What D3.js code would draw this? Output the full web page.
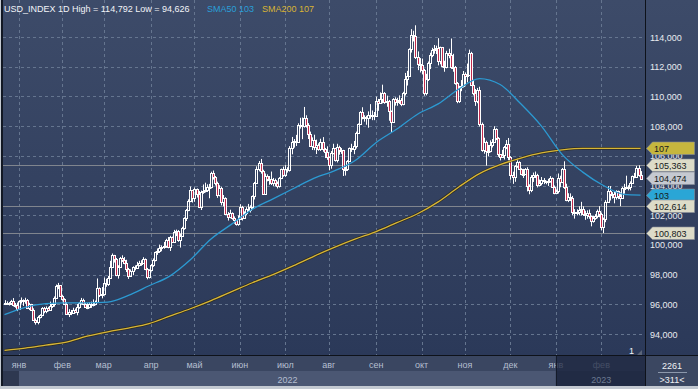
<!DOCTYPE html>
<html>
<head>
<meta charset="utf-8">
<script src="https://cdn.jsdelivr.net/npm/d3@7"></script>
<style>
  body { margin: 0; background: #fff; }
  svg { display: block; font-family: "Liberation Sans", Arial, sans-serif; }
</style>
</head>
<body>
<div id="chart"></div>
<script>
var width = 698, height = 389;
var plotLeft = 3, plotRight = 645, plotBottom = 355;

// trading days shown (weekdays), first and last bar
var firstDay = new Date(2021, 11, 23), afterLastDay = new Date(2023, 2, 1);
var firstOpen = 96.07;

// daily closes, one line per month (Dec 2021 .. Feb 2023)
var closes = [
  96.09, 96.05, 96.06, 96.19, 95.97, 95.96, 95.67,
  96.22, 96.26, 96.19, 96.32, 95.75, 95.99, 95.64, 94.95, 94.79, 95.17, 95.26, 95.74, 95.54, 95.78, 95.64, 95.91, 96.00, 96.45, 97.25, 97.27, 96.54,
  96.35, 96.03, 95.38, 95.48, 95.43, 95.63, 95.50, 95.82, 96.07, 96.32, 96.02, 95.84, 95.84, 96.04, 96.05, 96.03, 96.18, 97.08, 96.62, 96.71,
  97.41, 97.39, 97.77, 98.51, 99.29, 99.06, 97.99, 98.52, 99.12, 99.00, 98.77, 98.35, 97.93, 98.23, 98.48, 98.47, 98.64, 98.79, 98.81, 99.06, 98.41, 97.81, 98.31,
  98.62, 99.01, 99.49, 99.61, 99.81, 99.86, 99.91, 100.30, 99.88, 100.50, 100.20, 100.90, 100.96, 100.35, 100.57, 101.13, 101.79, 102.33, 102.98, 103.68, 103.19,
  103.75, 103.45, 102.56, 103.55, 103.66, 103.67, 103.92, 103.91, 104.85, 104.56, 104.19, 103.35, 103.83, 102.86, 103.14, 102.11, 101.86, 102.12, 101.81, 101.67, 101.42, 101.75,
  102.56, 101.81, 102.14, 102.44, 102.33, 102.54, 103.29, 104.15, 105.13, 105.52, 104.98, 103.41, 104.67, 104.44, 104.44, 104.17, 104.39, 104.19, 103.94, 104.51, 105.10, 104.69,
  105.14, 105.07, 106.51, 106.94, 107.03, 106.90, 108.07, 108.07, 108.00, 108.57, 108.05, 107.45, 106.69, 107.07, 106.60, 106.72, 106.46, 106.90, 106.45, 106.27, 105.90,
  105.35, 106.22, 106.50, 105.70, 106.60, 106.36, 106.36, 105.14, 105.08, 105.65, 106.51, 106.45, 106.68, 107.53, 108.16, 108.95, 108.59, 108.60, 108.53, 108.78, 108.78, 108.78, 108.70,
  109.67, 109.54, 109.85, 110.21, 109.60, 109.72, 108.99, 108.30, 109.80, 109.60, 109.70, 109.76, 109.50, 110.21, 111.19, 111.35, 113.19, 114.11, 114.10, 112.63, 112.19, 112.12,
  111.80, 110.20, 111.20, 112.24, 112.80, 113.15, 113.20, 113.25, 112.40, 113.30, 112.03, 112.00, 112.90, 112.80, 111.95, 111.98, 110.90, 109.70, 110.60, 110.70, 111.50,
  111.40, 111.45, 112.90, 110.80, 110.20, 109.68, 110.43, 108.11, 106.40, 106.90, 106.30, 106.30, 106.70, 106.95, 107.80, 107.20, 106.10, 105.90, 106.08, 106.60, 106.80, 105.90,
  104.70, 104.54, 105.31, 105.58, 105.10, 104.78, 104.80, 105.13, 103.99, 103.67, 104.56, 104.70, 104.68, 104.02, 104.16, 104.40, 104.28, 104.21, 104.33, 104.49, 103.92, 103.52,
  103.60, 104.52, 104.25, 105.12, 103.89, 103.00, 103.24, 103.17, 102.23, 102.20, 102.20, 102.38, 102.40, 102.06, 101.99, 102.15, 101.92, 101.63, 101.79, 101.92, 102.26, 102.10,
  101.21, 101.75, 102.92, 103.62, 103.42, 103.40, 103.22, 103.63, 103.28, 103.19, 103.81, 103.84, 103.87, 103.88, 104.18, 104.62, 104.60, 105.21, 104.68, 104.47
];

var highs = [
  96.28, 96.20, 96.15, 96.30, 96.42, 96.09, 96.12,
  96.26, 96.46, 96.33, 96.44, 96.35, 96.10, 96.03, 95.73, 95.05, 95.23, 95.33, 95.81, 95.82, 95.86, 95.83, 96.18, 96.09, 96.53, 97.33, 97.44, 97.30,
  96.62, 96.41, 96.15, 95.67, 95.62, 95.77, 95.72, 96.02, 96.16, 96.43, 96.38, 96.08, 96.09, 96.14, 96.18, 96.33, 96.25, 97.74, 97.14, 97.16,
  97.80, 97.72, 97.91, 98.93, 99.42, 99.33, 99.12, 98.63, 99.19, 99.30, 99.18, 99.00, 98.45, 98.35, 98.56, 98.62, 98.86, 98.93, 98.97, 99.17, 99.09, 98.45, 98.36,
  98.72, 99.09, 99.55, 99.76, 100.02, 99.96, 100.20, 100.41, 100.53, 100.61, 100.56, 101.01, 101.03, 101.00, 100.77, 101.22, 101.86, 102.42, 103.07, 103.93, 103.70,
  103.86, 103.80, 103.63, 103.66, 104.07, 104.19, 104.08, 104.11, 104.93, 105.01, 104.64, 104.26, 104.02, 103.91, 103.36, 103.21, 102.21, 102.37, 102.19, 101.92, 101.68, 101.99,
  102.74, 102.63, 102.26, 102.54, 102.76, 102.67, 103.33, 104.24, 105.29, 105.65, 105.79, 105.06, 104.81, 104.75, 104.64, 104.94, 104.51, 104.46, 104.27, 104.57, 105.14, 105.27,
  105.37, 105.23, 106.65, 107.27, 107.13, 107.41, 108.19, 108.56, 108.58, 109.29, 108.73, 108.20, 107.63, 107.24, 107.42, 107.09, 106.84, 107.15, 107.26, 106.53, 106.64,
  105.95, 106.32, 106.81, 106.53, 106.81, 106.68, 106.52, 106.40, 105.26, 105.71, 106.56, 106.81, 107.00, 107.63, 108.18, 109.01, 109.27, 108.73, 108.70, 108.99, 109.48, 109.05, 108.95,
  109.99, 109.83, 110.27, 110.79, 110.29, 110.05, 109.76, 109.05, 109.88, 109.94, 109.91, 110.07, 109.89, 110.31, 111.58, 111.72, 113.24, 114.53, 114.42, 114.79, 113.03, 112.58,
  112.55, 111.86, 111.52, 112.35, 112.94, 113.27, 113.46, 113.42, 113.92, 113.35, 113.33, 112.40, 113.07, 113.21, 113.90, 112.87, 112.05, 110.97, 110.71, 111.10, 111.71,
  111.61, 112.21, 113.15, 113.00, 111.11, 110.50, 110.57, 110.65, 108.24, 107.22, 107.02, 106.73, 107.04, 107.13, 107.99, 107.85, 107.26, 106.12, 106.40, 106.66, 107.06, 107.20,
  105.98, 104.93, 105.37, 105.84, 105.63, 105.16, 105.12, 105.17, 105.23, 104.08, 104.70, 104.87, 104.94, 104.79, 104.40, 104.57, 104.50, 104.32, 104.45, 104.63, 104.54, 104.00,
  103.74, 104.81, 104.66, 105.18, 105.63, 104.12, 103.48, 103.47, 103.30, 102.41, 102.40, 102.60, 102.90, 102.60, 102.30, 102.33, 102.38, 101.97, 101.95, 102.07, 102.38, 102.61,
  102.17, 101.84, 103.01, 103.96, 103.96, 103.55, 103.62, 103.68, 103.66, 103.54, 103.91, 104.11, 104.66, 104.02, 104.28, 104.67, 104.85, 105.32, 105.36, 104.97
];

var lows = [
  95.95, 95.97, 95.92, 95.95, 95.86, 95.77, 95.54,
  95.64, 96.05, 95.89, 96.04, 95.68, 95.61, 95.56, 94.93, 94.63, 94.65, 95.05, 95.20, 95.40, 95.40, 95.52, 95.55, 95.76, 95.84, 96.40, 97.02, 96.49,
  96.25, 95.95, 95.33, 95.14, 95.27, 95.41, 95.40, 95.26, 95.70, 95.98, 95.94, 95.77, 95.67, 95.73, 95.76, 95.86, 95.93, 96.14, 96.49, 96.40,
  96.59, 97.18, 97.24, 97.74, 98.50, 98.81, 97.89, 97.73, 98.45, 98.85, 98.70, 98.17, 97.71, 97.92, 97.96, 98.29, 98.44, 98.55, 98.59, 98.77, 98.30, 97.68, 97.74,
  98.21, 98.52, 98.89, 99.33, 99.46, 99.57, 99.74, 99.80, 99.77, 99.59, 100.15, 100.13, 100.59, 100.21, 99.82, 100.54, 101.02, 101.61, 102.27, 102.88, 102.85,
  102.90, 103.19, 102.48, 102.35, 103.44, 103.53, 103.56, 103.14, 103.80, 104.40, 104.00, 103.17, 103.27, 102.66, 102.59, 102.07, 101.64, 101.79, 101.70, 101.43, 101.30, 101.29,
  101.71, 101.64, 101.82, 101.99, 102.24, 102.18, 102.39, 103.06, 104.12, 104.95, 104.80, 103.36, 103.37, 104.28, 104.05, 104.03, 103.97, 103.95, 103.80, 103.86, 104.43, 104.59,
  104.58, 104.87, 104.94, 106.10, 106.55, 106.66, 106.89, 107.83, 107.12, 107.90, 107.90, 107.13, 106.59, 106.39, 106.38, 106.12, 106.34, 106.33, 106.27, 105.85, 105.73,
  105.04, 105.13, 106.10, 105.61, 105.55, 106.07, 106.13, 104.64, 104.67, 104.98, 105.58, 106.26, 106.11, 106.49, 107.49, 108.07, 108.46, 108.30, 108.09, 107.89, 108.49, 108.40, 108.40,
  108.63, 109.03, 109.51, 109.53, 109.50, 109.30, 108.36, 107.59, 108.27, 109.38, 109.37, 109.49, 109.34, 109.40, 110.06, 110.73, 111.34, 112.95, 113.70, 112.52, 111.77, 111.61,
  111.49, 110.05, 110.07, 111.04, 111.84, 112.64, 112.87, 112.85, 112.09, 112.16, 111.95, 111.66, 111.89, 112.57, 111.85, 111.66, 110.79, 109.54, 109.56, 110.35, 110.60,
  110.74, 110.94, 111.43, 110.72, 110.07, 109.36, 109.54, 107.97, 106.27, 106.14, 105.34, 105.96, 106.23, 106.56, 106.89, 107.06, 105.93, 105.69, 105.87, 105.75, 106.45, 105.68,
  104.39, 104.11, 104.25, 105.19, 105.04, 104.69, 104.51, 104.71, 103.60, 103.41, 103.55, 104.24, 104.50, 103.87, 103.95, 104.01, 104.09, 104.08, 103.97, 104.19, 103.86, 103.41,
  103.45, 103.46, 103.88, 104.16, 103.77, 102.94, 102.88, 102.95, 101.99, 101.77, 101.99, 102.01, 101.98, 101.95, 101.69, 101.76, 101.76, 101.25, 101.50, 101.69, 101.79, 101.86,
  100.99, 100.80, 101.53, 102.90, 102.99, 103.12, 102.80, 103.05, 103.08, 102.61, 103.13, 103.45, 103.76, 103.67, 103.67, 104.14, 104.49, 104.55, 104.59, 104.40
];

// moving averages, one value every 10 bars
var smaBars = [0, 10, 20, 30, 40, 50, 60, 70, 80, 90, 100, 110, 120, 130, 140, 150, 160, 170, 180, 190, 200, 210, 220, 230, 240, 250, 260, 270, 280, 290, 300, 308];
var sma50 = [95.3, 95.8, 96.05, 96.1, 96.1, 96.15, 96.6, 97.25, 97.9, 99.0, 100.4, 101.4, 102.4, 103.1, 103.8, 104.5,
  105.0, 105.7, 106.9, 107.8, 108.8, 109.5, 110.5, 111.2, 110.8, 109.5, 108.0, 106.1, 104.9, 104.0, 103.4, 103.35];
var sma200 = [92.9, 93.05, 93.25, 93.45, 93.85, 94.15, 94.4, 94.7, 95.2, 95.7, 96.25, 96.85, 97.45, 98.0, 98.6, 99.25,
  99.85, 100.4, 100.9, 101.5, 102.1, 102.9, 103.9, 104.8, 105.4, 105.85, 106.2, 106.4, 106.5, 106.5, 106.5, 106.5];

var levels = [105.363, 102.614, 100.803];
var lastPrice = 104.474;
var priceTicks = [94, 96, 98, 100, 102, 104, 106, 108, 110, 112, 114];
var monthNames = ['янв', 'фев', 'мар', 'апр', 'май', 'июн', 'июл', 'авг', 'сен', 'окт', 'ноя', 'дек'];
var titleText = 'USD_INDEX 1D High = 114,792 Low = 94,626';
var barsTotal = 2261, barsVisible = 311;

var fmt = d3.format(',.3f');
function ruNum(v) { return fmt(v).replace('.', ','); }

var days = d3.timeDay.range(firstDay, afterLastDay).filter(function(d) {
    return d.getDay() !== 0 && d.getDay() !== 6;
});
var n = closes.length;

var x = d3.scaleBand().domain(d3.range(n)).range([3.47, 641.6]);
var cx = function(i) { return x(i) + x.bandwidth() / 2; };
var y = d3.scaleLinear().domain([94, 114]).range([334, 37]);

var svg = d3.select('#chart').append('svg').attr('width', width).attr('height', height);

var defs = svg.append('defs');
var grad = defs.append('linearGradient').attr('id', 'bg').attr('x1', 0).attr('y1', 0).attr('x2', 0).attr('y2', 1);
grad.append('stop').attr('offset', 0).attr('stop-color', '#3d4b69');
grad.append('stop').attr('offset', 1).attr('stop-color', '#2b3959');
defs.append('clipPath').attr('id', 'plotclip').append('rect')
    .attr('x', plotLeft).attr('y', 0).attr('width', plotRight - plotLeft).attr('height', plotBottom);

// frame and panels
svg.append('rect').attr('width', width).attr('height', height).attr('fill', '#c3c9d1');
svg.append('rect').attr('x', 1).attr('width', width - 1).attr('height', 386).attr('fill', '#121824');
svg.append('rect').attr('x', plotLeft).attr('width', plotRight - plotLeft).attr('height', plotBottom).attr('fill', 'url(#bg)');
svg.append('rect').attr('x', plotRight + 1).attr('width', width - plotRight - 1).attr('height', plotBottom).attr('fill', 'url(#bg)');

var monthStarts = d3.range(1, n).filter(function(i) {
    return days[i].getMonth() !== days[i - 1].getMonth();
});
var yearStart = monthStarts.filter(function(i) { return days[i].getMonth() === 0; });

var plot = svg.append('g').attr('clip-path', 'url(#plotclip)');

// dashed grid
plot.selectAll('.hgrid').data(priceTicks).enter().append('line')
    .attr('x1', plotLeft).attr('x2', plotRight)
    .attr('y1', function(d) { return Math.round(y(d)) + 0.5; })
    .attr('y2', function(d) { return Math.round(y(d)) + 0.5; })
    .attr('stroke', '#65758f').attr('stroke-dasharray', '3,3');
plot.selectAll('.vgrid').data(monthStarts).enter().append('line')
    .attr('x1', function(i) { return Math.round(cx(i)) + 0.5; })
    .attr('x2', function(i) { return Math.round(cx(i)) + 0.5; })
    .attr('y1', 0).attr('y2', plotBottom)
    .attr('stroke', '#65758f').attr('stroke-dasharray', '3,3');

// horizontal level lines
plot.selectAll('.level').data(levels).enter().append('line')
    .attr('x1', plotLeft).attr('x2', plotRight)
    .attr('y1', function(d) { return Math.round(y(d)) + 0.5; })
    .attr('y2', function(d) { return Math.round(y(d)) + 0.5; })
    .attr('stroke', '#80858e');

// candles
var bars = d3.range(n).map(function(i) {
    var o = i ? closes[i - 1] : firstOpen, c = closes[i];
    return { i: i, o: o, c: c, h: Math.max(highs[i], o, c), l: Math.min(lows[i], o, c) };
});
var candle = plot.selectAll('.candle').data(bars).enter().append('g');
candle.each(function(d) {
    var g = d3.select(this);
    var px = Math.round(cx(d.i));
    var top = Math.round(y(Math.max(d.o, d.c))), bot = Math.round(y(Math.min(d.o, d.c)));
    if (bot - top < 1) bot = top + 1;
    g.append('line').attr('x1', px + 0.5).attr('x2', px + 0.5)
        .attr('y1', y(d.h)).attr('y2', top).attr('stroke', '#fff');
    g.append('line').attr('x1', px + 0.5).attr('x2', px + 0.5)
        .attr('y1', bot).attr('y2', y(d.l)).attr('stroke', '#fff');
    g.append('rect').attr('x', px - 0.5).attr('y', top + 0.5)
        .attr('width', 2).attr('height', bot - top)
        .attr('fill', d.c < d.o ? '#c22a4c' : 'none')
        .attr('stroke', '#fff').attr('stroke-width', 1);
});

// moving averages
var smaLine = function(vals) {
    return d3.line()
        .x(function(d, k) { return cx(smaBars[k]); })
        .y(function(d) { return y(d); })
        .curve(d3.curveMonotoneX)(vals);
};
plot.append('path').attr('d', smaLine(sma200)).attr('fill', 'none')
    .attr('stroke', '#2a2410').attr('stroke-width', 2.8).attr('stroke-opacity', 0.7);
plot.append('path').attr('d', smaLine(sma200)).attr('fill', 'none')
    .attr('stroke', '#d8b636').attr('stroke-width', 1.3);
plot.append('path').attr('d', smaLine(sma50)).attr('fill', 'none')
    .attr('stroke', '#2c9ad2').attr('stroke-width', 1.3);

// header
svg.append('text').attr('x', 4).attr('y', 12).attr('font-size', 9).attr('fill', '#f2f4f8').text(titleText);
svg.append('text').attr('x', 207).attr('y', 12).attr('font-size', 9).attr('fill', '#2a9fd8')
    .text('SMA50 ' + Math.round(sma50[sma50.length - 1]));
svg.append('text').attr('x', 262).attr('y', 12).attr('font-size', 9).attr('fill', '#d8b434')
    .text('SMA200 ' + Math.round(sma200[sma200.length - 1]));

// separators
svg.append('line').attr('x1', plotRight + 0.5).attr('x2', plotRight + 0.5).attr('y1', 0).attr('y2', 386)
    .attr('stroke', '#0e121a');
svg.append('line').attr('x1', 1).attr('x2', width).attr('y1', plotBottom + 0.5).attr('y2', plotBottom + 0.5)
    .attr('stroke', '#0e121a');

// price axis
svg.selectAll('.ptick').data(priceTicks).enter().append('text')
    .attr('x', 650).attr('y', function(d) { return y(d) + 3.5; })
    .attr('font-size', 9).attr('fill', '#e8ebf0')
    .text(function(d) { return ruNum(d); });

var tags = [
    { v: sma200[sma200.length - 1], text: String(Math.round(sma200[sma200.length - 1])), fill: '#c6b63e' },
    { v: levels[0], text: ruNum(levels[0]), fill: '#dddcc8' },
    { v: lastPrice, text: ruNum(lastPrice), fill: '#c5c9d1' },
    { v: sma50[sma50.length - 1], text: String(Math.round(sma50[sma50.length - 1])), fill: '#2aa6d6' },
    { v: levels[1], text: ruNum(levels[1]), fill: '#dddcc8' },
    { v: levels[2], text: ruNum(levels[2]), fill: '#dddcc8' }
];
var tag = svg.selectAll('.tag').data(tags).enter().append('g')
    .attr('transform', function(d) { return 'translate(0,' + Math.round(y(d.v)) + ')'; });
tag.append('path').attr('d', 'M646.5,0.5L652.5,-6L694.5,-6L694.5,6.5L652.5,6.5Z')
    .attr('fill', function(d) { return d.fill; }).attr('stroke', '#8a8f98').attr('stroke-width', 0.6);
tag.append('text').attr('x', 654).attr('y', 4).attr('font-size', 9).attr('fill', '#161a20')
    .text(function(d) { return d.text; });

// time axis
var axisTop = plotBottom + 1;
svg.append('rect').attr('x', plotLeft).attr('y', axisTop).attr('width', plotRight - plotLeft).attr('height', 15).attr('fill', '#3a4661');
svg.append('rect').attr('x', plotLeft).attr('y', axisTop + 15).attr('width', plotRight - plotLeft).attr('height', 15).attr('fill', '#2e3850');
var firstX = cx(monthStarts[0]), splitX = cx(yearStart[1]);
svg.append('rect').attr('x', firstX).attr('y', axisTop + 15).attr('width', splitX - firstX).attr('height', 15).attr('fill', '#4b5773');

svg.selectAll('.month').data(monthStarts).enter().append('text')
    .attr('x', function(i) { return cx(i); }).attr('y', axisTop + 12)
    .attr('text-anchor', 'middle').attr('font-size', 9).attr('fill', '#b4bfd0')
    .text(function(i) { return monthNames[days[i].getMonth()]; });
svg.append('text').attr('x', (firstX + splitX) / 2).attr('y', axisTop + 27)
    .attr('text-anchor', 'middle').attr('font-size', 9).attr('fill', '#b4bfd0')
    .text(days[yearStart[0]].getFullYear());

// dimmed 2023 part
svg.append('rect').attr('x', splitX).attr('y', axisTop).attr('width', plotRight - splitX).attr('height', 30)
    .attr('fill', '#1d2740').attr('fill-opacity', 0.75);
svg.append('line').attr('x1', Math.round(splitX) + 0.5).attr('x2', Math.round(splitX) + 0.5)
    .attr('y1', axisTop).attr('y2', axisTop + 30).attr('stroke', '#141b2a');
var lastMonth = monthStarts[monthStarts.length - 1];
svg.append('text').attr('x', cx(lastMonth)).attr('y', axisTop + 27)
    .attr('text-anchor', 'middle').attr('font-size', 9).attr('fill', '#6c7a92')
    .text(days[lastMonth].getFullYear());

// bar counter box
svg.append('rect').attr('x', plotRight + 1).attr('y', axisTop).attr('width', width - plotRight - 1).attr('height', 30).attr('fill', '#3b4761');
svg.append('text').attr('x', 672).attr('y', axisTop + 13).attr('text-anchor', 'middle').attr('font-size', 9).attr('fill', '#eef0f4').text(barsTotal);
svg.append('line').attr('x1', 658).attr('x2', 687).attr('y1', axisTop + 16.5).attr('y2', axisTop + 16.5).attr('stroke', '#8c98ac');
svg.append('text').attr('x', 672).attr('y', axisTop + 27).attr('text-anchor', 'middle').attr('font-size', 9).attr('fill', '#eef0f4').text('>' + barsVisible + '<');

// window number marker
svg.append('text').attr('x', 629).attr('y', 354).attr('font-size', 9).attr('fill', '#f2f4f8').text('1');
svg.append('path').attr('d', 'M637,355L642,350L642,355Z').attr('fill', '#5b6579');
</script>
</body>
</html>
